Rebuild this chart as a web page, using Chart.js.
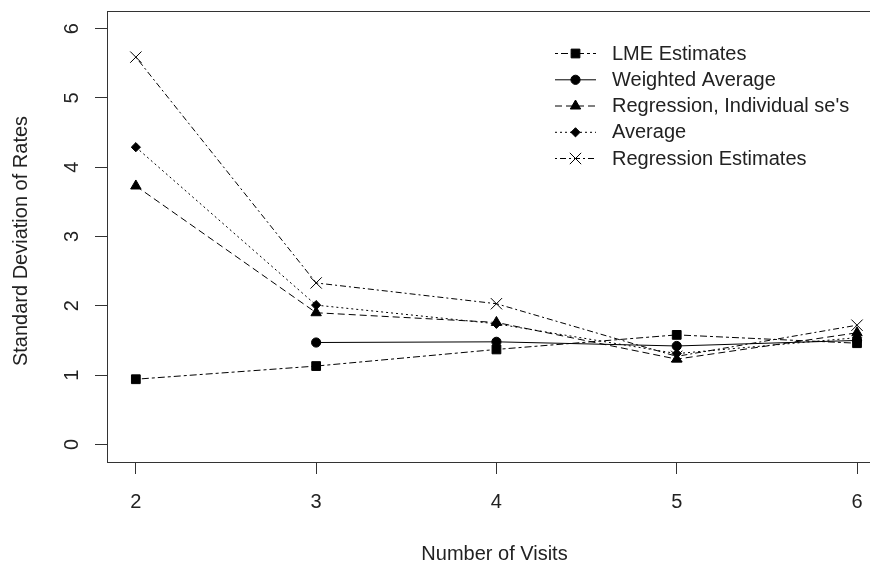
<!DOCTYPE html>
<html>
<head>
<meta charset="utf-8">
<script src="https://cdn.jsdelivr.net/npm/chart.js@4/dist/chart.umd.min.js"></script>
<style>
html,body{margin:0;padding:0;background:#fff;}
canvas{display:block;}
</style>
</head>
<body>
<canvas id="c" width="870" height="563"></canvas>
<script>
// ---- data ----
const visits = [2, 3, 4, 5, 6];
const lmeEstimates = [0.94, 1.13, 1.37, 1.58, 1.46];
const weightedAverage = [null, 1.47, 1.48, 1.42, 1.50];
const regressionIndividualSe = [3.73, 1.90, 1.76, 1.23, 1.61];
const average = [4.29, 2.01, 1.74, 1.31, 1.54];
const regressionEstimates = [5.59, 2.33, 2.03, 1.27, 1.72];
const xTickLabels = ['2', '3', '4', '5', '6'];
const yTickLabels = ['0', '1', '2', '3', '4', '5', '6'];
const seriesNames = ['LME Estimates', 'Weighted Average', "Regression, Individual se's", 'Average', 'Regression Estimates'];
const xTitle = 'Number of Visits';
const yTitle = 'Standard Deviation of Rates';

const FONT = '20px "Liberation Sans", Arial, sans-serif';
const TEXT = '#222';
const AXIS = '#333';

function pts(arr){ return visits.map((v,i)=>({x:v, y:arr[i]})); }

const styles = [
  {data: lmeEstimates, dash:[3,3,7,3], pointStyle:'rect', radius:6.2},
  {data: weightedAverage, dash:[], pointStyle:'circle', radius:4.6},
  {data: regressionIndividualSe, dash:[7,4], pointStyle:'triangle', radius:6},
  {data: average, dash:[2,3], pointStyle:'rectRot', radius:4.6},
  {data: regressionEstimates, dash:[2,3,6,3], pointStyle:'crossRot', radius:8}
];

const datasets = styles.map((s,i)=>({
  label: seriesNames[i],
  data: pts(s.data),
  borderColor:'#000',
  backgroundColor:'#000',
  borderWidth:1,
  borderDash:s.dash,
  pointStyle:s.pointStyle,
  pointRadius:s.radius,
  pointHoverRadius:s.radius,
  pointBorderWidth:1,
  pointBorderColor:'#000',
  pointBackgroundColor:'#000',
  tension:0,
  spanGaps:false,
  fill:false,
  clip:false
}));

const decor = {
  id:'decor',
  afterDraw(chart){
    const ctx = chart.ctx;
    const ca = chart.chartArea;
    const xs = chart.scales.x, ys = chart.scales.y;
    ctx.save();
    // top border
    ctx.strokeStyle = AXIS; ctx.lineWidth = 1; ctx.setLineDash([]);
    ctx.beginPath(); ctx.moveTo(ca.left, ca.top + 0.5); ctx.lineTo(ca.right + 20, ca.top + 0.5); ctx.stroke();
    // x tick labels
    ctx.fillStyle = TEXT; ctx.font = FONT;
    ctx.textAlign = 'center'; ctx.textBaseline = 'alphabetic';
    xTickLabels.forEach(t=>{ ctx.fillText(t, xs.getPixelForValue(Number(t)), 508); });
    // y tick labels (rotated)
    yTickLabels.forEach(t=>{
      ctx.save();
      ctx.translate(78, ys.getPixelForValue(Number(t)));
      ctx.rotate(-Math.PI/2);
      ctx.textAlign='center'; ctx.textBaseline='alphabetic';
      ctx.fillText(t, 0, 0);
      ctx.restore();
    });
    // axis titles
    ctx.textAlign='center'; ctx.textBaseline='alphabetic';
    ctx.fillText(xTitle, 494.5, 560);
    ctx.save();
    ctx.translate(27, 241);
    ctx.rotate(-Math.PI/2);
    ctx.fillText(yTitle, 0, 0);
    ctx.restore();
    // legend
    const rows = [53, 79.3, 105.5, 131.8, 158];
    styles.forEach((s,i)=>{
      const y = rows[i];
      ctx.strokeStyle='#000'; ctx.lineWidth=1; ctx.setLineDash(s.dash);
      ctx.beginPath(); ctx.moveTo(555, y+0.5); ctx.lineTo(596, y+0.5); ctx.stroke();
      ctx.setLineDash([]);
      ctx.fillStyle='#000'; ctx.strokeStyle='#000';
      Chart.helpers.drawPoint(ctx, {pointStyle:s.pointStyle, radius:s.radius, borderWidth:1, rotation:0}, 575.5, y+0.5);
      ctx.fillStyle = TEXT; ctx.font = FONT; ctx.textAlign='left'; ctx.textBaseline='middle';
      ctx.fillText(seriesNames[i], 612, y+1);
    });
    ctx.restore();
  }
};

new Chart(document.getElementById('c'), {
  type:'line',
  data:{datasets},
  options:{
    responsive:false,
    devicePixelRatio:1,
    animation:false,
    events:[],
    layout:{autoPadding:false, padding:{top:11,left:0,right:0,bottom:0}},
    plugins:{legend:{display:false}, tooltip:{enabled:false}, title:{display:false}},
    scales:{
      x:{
        type:'linear', position:'bottom', min:1.84, max:6.072,
        afterBuildTicks(s){ s.ticks = xTickLabels.map(t=>({value:Number(t)})); },
        afterFit(s){ s.height = 101; s.paddingLeft = 0; s.paddingRight = 0; },
        ticks:{display:false},
        grid:{drawOnChartArea:false, drawTicks:true, tickLength:12, color:AXIS, lineWidth:1},
        border:{display:true, color:AXIS, width:1}
      },
      y:{
        type:'linear', position:'left', min:-0.255, max:6.256,
        afterBuildTicks(s){ s.ticks = yTickLabels.map(t=>({value:Number(t)})); },
        afterFit(s){ s.width = 107; s.paddingTop = 0; s.paddingBottom = 0; },
        ticks:{display:false},
        grid:{drawOnChartArea:false, drawTicks:true, tickLength:12, color:AXIS, lineWidth:1},
        border:{display:true, color:AXIS, width:1}
      }
    }
  },
  plugins:[decor]
});
</script>
</body>
</html>
